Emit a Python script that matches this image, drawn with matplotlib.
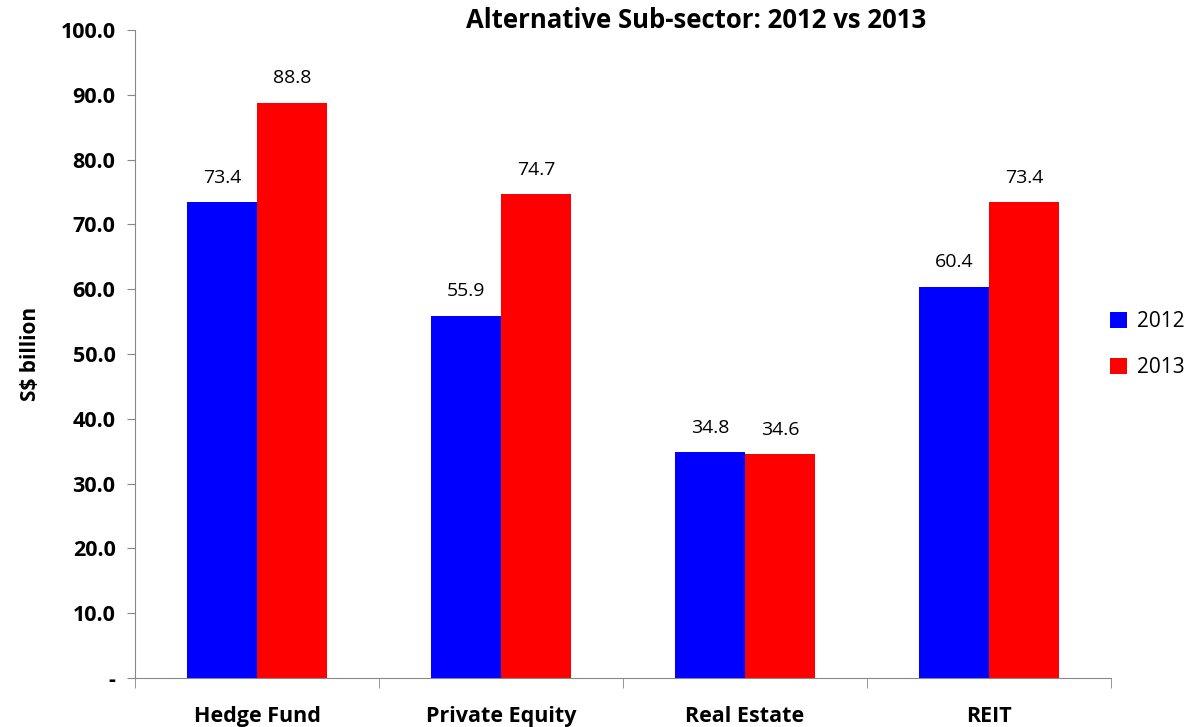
import matplotlib
matplotlib.use("Agg")
import matplotlib.pyplot as plt
import numpy as np
from matplotlib.ticker import FixedLocator, NullFormatter

categories = ["Hedge Fund", "Private Equity", "Real Estate", "REIT"]
values_2012 = [73.4, 55.9, 34.8, 60.4]
values_2013 = [88.8, 74.7, 34.6, 73.4]
series_names = ["2012", "2013"]
yticks = [0, 10, 20, 30, 40, 50, 60, 70, 80, 90, 100]
ytick_labels = ["-"] + [f"{v:.1f}" for v in yticks[1:]]

plt.rcParams['font.family'] = ['Open Sans', 'DejaVu Sans']

fig = plt.figure(figsize=(11.87, 7.27), dpi=100)
ax = fig.add_axes([135/1187, 1-678/727, (1111-135)/1187, (678-30)/727])

x = np.arange(len(categories))
w = 0.287
b1 = ax.bar(x - w/2, values_2012, w, color="#0000FF", label=series_names[0])
b2 = ax.bar(x + w/2, values_2013, w, color="#FF0000", label=series_names[1])

for bars, vals in ((b1, values_2012), (b2, values_2013)):
    for r, v in zip(bars, vals):
        ax.annotate(f"{v:.1f}", (r.get_x() + r.get_width()/2, v), xytext=(0, 11),
                    textcoords="offset points", ha="center", va="bottom", fontsize=14)

ax.set_xlim(-0.5, len(categories) - 0.5)
ax.set_ylim(0, 100)
ax.set_yticks(yticks)
ax.set_yticklabels(ytick_labels, fontsize=15.5, fontweight="bold")
ax.set_xticks(x)
ax.set_xticklabels(categories, fontsize=15.5, fontweight="bold")
ax.tick_params(axis="x", which="major", length=0, pad=20)
ax.xaxis.set_minor_locator(FixedLocator(np.arange(-0.5, len(categories), 1.0)))
ax.xaxis.set_minor_formatter(NullFormatter())
ax.tick_params(axis="x", which="minor", length=7, color="#888888")
ax.tick_params(axis="y", length=6, color="#888888", pad=8)
for s in ("top", "right"):
    ax.spines[s].set_visible(False)
for s in ("left", "bottom"):
    ax.spines[s].set_color("#888888")
ax.set_ylabel("S$ billion", fontsize=15, fontweight="bold", labelpad=14)
fig.text(696/1187, 1-20/727, "Alternative Sub-sector: 2012 vs 2013", fontsize=18.5,
         fontweight="bold", ha="center", va="center")

leg = ax.legend(loc="center left", bbox_to_anchor=(0.98, 0.515), frameon=False,
                fontsize=15, handlelength=0.8, handleheight=0.8, labelspacing=1.2, handletextpad=0.5)

fig.savefig("out.png", dpi=100)
